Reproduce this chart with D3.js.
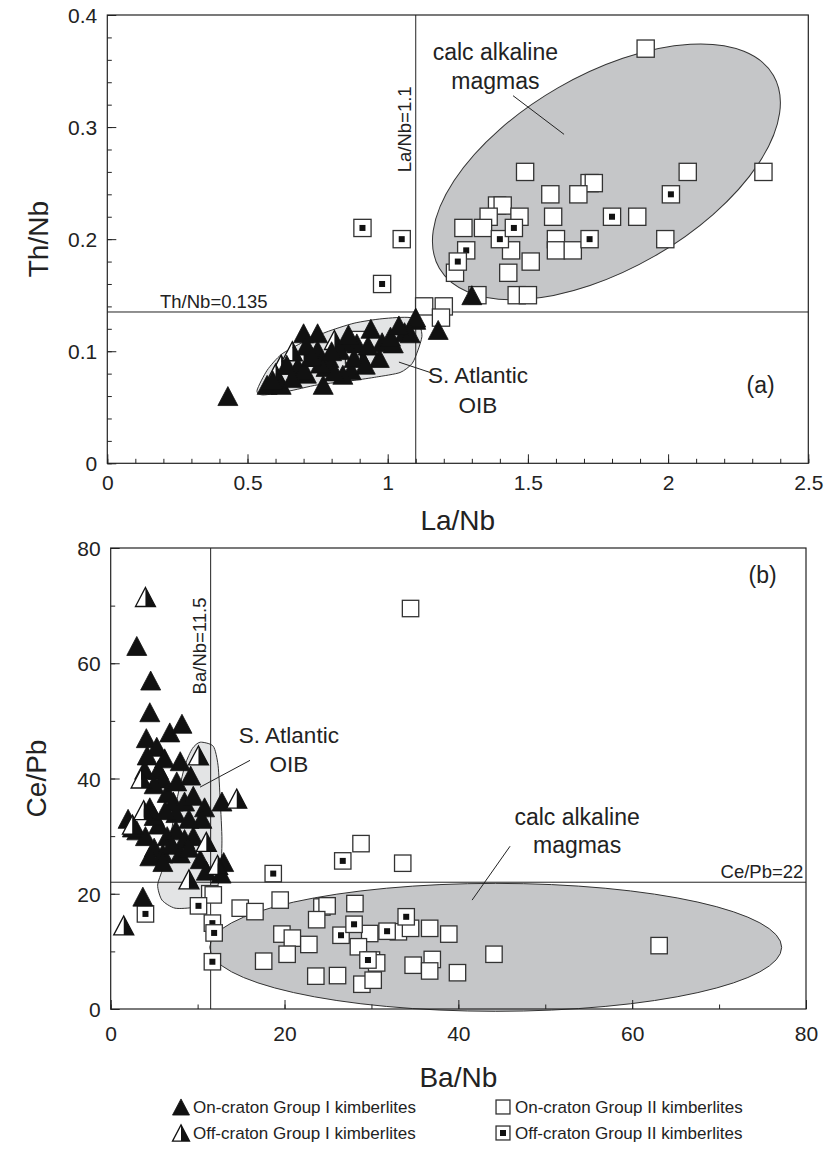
<!DOCTYPE html>
<html>
<head>
<meta charset="utf-8">
<script src="https://cdn.jsdelivr.net/npm/d3@7"></script>
<style>
  body { margin: 0; background: #fff; }
  svg text { font-family: 'Liberation Sans', Arial, Helvetica, sans-serif; fill: #222; }
</style>
</head>
<body>
<svg id="chart" width="824" height="1150"></svg>
<script>
// ---- panel (a) : Th/Nb vs La/Nb ----
const onCratonI_a = [
  [0.43, 0.06], [0.57, 0.07], [0.62, 0.07], [0.59, 0.074], [0.70, 0.116], [0.75, 0.116],
  [0.71, 0.105], [0.75, 0.101], [0.79, 0.094], [0.85, 0.108], [0.89, 0.107], [0.94, 0.12],
  [0.98, 0.108], [1.02, 0.107], [1.06, 0.117], [1.10, 0.128], [1.18, 0.119], [1.10, 0.13],
  [0.97, 0.094], [0.87, 0.083], [0.84, 0.079], [0.77, 0.07], [0.71, 0.08], [0.68, 0.086],
  [0.64, 0.088], [0.78, 0.086], [0.81, 0.082], [0.88, 0.094], [0.76, 0.089], [0.83, 0.101],
  [0.93, 0.105], [1.01, 0.113], [1.08, 0.116], [0.70, 0.083], [1.30, 0.15],
  [0.73, 0.095], [0.80, 0.10], [0.92, 0.088], [0.66, 0.076], [0.86, 0.115], [1.04, 0.123]
];
const offCratonI_a = [[0.62, 0.088], [0.60, 0.08], [0.81, 0.11], [0.70, 0.095], [0.90, 0.097], [0.66, 0.1]];
const onCratonII_a = [
  [1.92, 0.37], [1.49, 0.26], [2.07, 0.26], [2.34, 0.26], [1.72, 0.25], [1.735, 0.25],
  [1.58, 0.24], [1.68, 0.24], [1.39, 0.23], [1.41, 0.23], [1.36, 0.22], [1.47, 0.22],
  [1.59, 0.22], [1.89, 0.22], [1.27, 0.21], [1.34, 0.21], [1.60, 0.20], [1.99, 0.20],
  [1.44, 0.19], [1.60, 0.19], [1.66, 0.19], [1.51, 0.18], [1.24, 0.17], [1.43, 0.17],
  [1.32, 0.15], [1.46, 0.15], [1.50, 0.15], [1.13, 0.14], [1.20, 0.14], [1.19, 0.13],
  [0.88, 0.097], [0.90, 0.11]
];
const offCratonII_a = [
  [2.01, 0.24], [1.80, 0.22], [1.72, 0.20], [1.40, 0.20], [1.45, 0.21], [1.28, 0.19],
  [1.25, 0.18], [0.91, 0.21], [1.05, 0.20], [0.98, 0.16]
];

// ---- panel (b) : Ce/Pb vs Ba/Nb ----
const onCratonI_b = [
  [3.0, 63], [4.6, 57], [4.5, 51.5], [4.1, 47], [5.3, 45.5], [6.8, 48], [8.2, 49.5],
  [8.0, 43], [3.9, 41.5], [5.5, 41.5], [6.0, 40], [5.0, 39], [6.5, 37.5], [7.2, 36],
  [8.5, 36], [9.5, 37], [10.8, 35], [12.8, 36], [4.5, 35], [2.0, 33], [3.0, 31], [4.0, 30],
  [5.5, 32], [6.5, 30], [7.5, 31], [8.5, 29.5], [9.5, 30], [10.5, 33], [5.0, 28], [6.0, 27],
  [7.0, 28.5], [8.0, 27], [9.0, 28], [4.5, 26.5], [6.0, 25.5], [10.3, 26], [12.7, 23.5],
  [13.0, 25.5], [11.0, 24], [3.7, 19.5], [5.0, 33.5], [7.5, 34], [9.0, 33], [6.3, 34.5],
  [2.5, 31.5], [4.2, 44], [6.2, 43.5], [7.6, 39.5], [9.2, 40.5]
];
const offCratonI_b = [
  [4.0, 71.5], [10.1, 44], [3.5, 40], [3.8, 34.5], [1.5, 14.5], [14.5, 36.5],
  [12.3, 25], [9.0, 22.5], [2.5, 32], [11.0, 29]
];
const onCratonII_b = [
  [34.5, 69.5], [28.8, 28.7], [33.6, 25.3], [11.4, 20.0], [11.8, 19.8], [14.9, 17.5],
  [16.6, 16.9], [19.5, 18.9], [24.3, 17.7], [24.9, 17.9], [28.1, 18.3], [23.7, 15.5],
  [29.8, 13.1], [33.1, 13.4], [34.5, 14.0], [36.7, 14.0], [38.9, 13.0], [19.7, 13.0],
  [20.9, 12.3], [22.8, 11.2], [28.5, 10.8], [17.6, 8.3], [20.3, 9.5], [30.0, 8.5],
  [30.6, 8.0], [34.8, 7.6], [37.0, 8.6], [36.7, 6.6], [39.9, 6.3], [44.1, 9.5],
  [63.1, 11.0], [23.6, 5.7], [26.1, 5.8], [28.9, 4.3], [30.2, 5.0]
];
const offCratonII_b = [
  [18.7, 23.5], [26.7, 25.7], [10.1, 17.9], [11.7, 14.9], [11.9, 13.2], [11.7, 8.2],
  [26.5, 12.8], [28.0, 14.7], [31.8, 13.5], [34.0, 16.0], [29.6, 8.5], [4.0, 16.5]
];

// field outlines (data units)
const oibFieldA = [
  [0.57, 0.083], [0.62, 0.097], [0.69, 0.107], [0.78, 0.117], [0.88, 0.125], [0.98, 0.129],
  [1.08, 0.13], [1.115, 0.122], [1.122, 0.113], [1.108, 0.101], [1.087, 0.089], [1.044, 0.081],
  [0.96, 0.077], [0.88, 0.074], [0.75, 0.07], [0.64, 0.064], [0.555, 0.061], [0.534, 0.065]
];
const oibFieldB = [
  [10.3, 46.3], [11.8, 45.6], [12.35, 42.3], [12.6, 36.2], [12.8, 29.3], [12.6, 23.2],
  [11.7, 19.2], [9.7, 17.7], [7.4, 17.5], [5.9, 18.9], [5.4, 21.5], [6.0, 24.4],
  [6.8, 29.3], [7.6, 36.2], [8.55, 42.3], [9.4, 45.2]
];
// semi-axes of the tilted field are given in La/Nb units
const calcFieldA = { cx: 1.78, cy: 0.26, a: 0.688, b: 0.346, tilt: 30 };
const calcFieldB = { cx: 44.3, cy: 10.7, rx: 32.9, ry: 11.1 };

const xTicksA = [0, 0.5, 1, 1.5, 2, 2.5];
const yTicksA = [0, 0.1, 0.2, 0.3, 0.4];
const xTicksB = [0, 20, 40, 60, 80];
const yTicksB = [0, 20, 40, 60, 80];

const legendData = [
  { label: 'On-craton Group I kimberlites', kind: 'tri' },
  { label: 'On-craton Group II kimberlites', kind: 'sq' },
  { label: 'Off-craton Group I kimberlites', kind: 'half' },
  { label: 'Off-craton Group II kimberlites', kind: 'dot' }
];

const svg = d3.select('#chart');
const ink = '#222';

function triPath(w, h) {
  return 'M0,' + (-h / 2) + 'L' + (w / 2) + ',' + (h / 2) + 'L' + (-w / 2) + ',' + (h / 2) + 'Z';
}

function drawMarker(g, kind, size) {
  if (kind === 'tri') {
    g.append('path').attr('d', triPath(size, size * 0.95)).attr('fill', '#111').attr('stroke', '#111').attr('stroke-width', 0.8);
  } else if (kind === 'half') {
    const h = size * 0.95;
    g.append('path').attr('d', 'M0,' + (-h / 2) + 'L0,' + (h / 2) + 'L' + (-size / 2) + ',' + (h / 2) + 'Z').attr('fill', '#fff');
    g.append('path').attr('d', 'M0,' + (-h / 2) + 'L' + (size / 2) + ',' + (h / 2) + 'L0,' + (h / 2) + 'Z').attr('fill', '#111');
    g.append('path').attr('d', triPath(size, h)).attr('fill', 'none').attr('stroke', '#111').attr('stroke-width', 1.3);
  } else {
    const s = size * 0.82;
    g.append('rect').attr('x', -s / 2).attr('y', -s / 2).attr('width', s).attr('height', s)
      .attr('fill', '#fff').attr('stroke', '#333').attr('stroke-width', 1.3);
    if (kind === 'dot') {
      g.append('rect').attr('x', -3).attr('y', -3).attr('width', 6).attr('height', 6).attr('fill', '#111');
    }
  }
}

function drawPoints(g, data, kind, x, y, size) {
  g.selectAll(null)
    .data(data)
    .enter()
    .append('g')
    .attr('transform', function (d) { return 'translate(' + x(d[0]) + ',' + y(d[1]) + ')'; })
    .each(function () { drawMarker(d3.select(this), kind, size); });
}

function drawAxes(g, x, y, opt) {
  const w = x.range()[1] - x.range()[0];
  const h = y.range()[0] - y.range()[1];
  const bottom = y.range()[0];
  const left = x.range()[0];

  // minor ticks
  g.append('g').attr('transform', 'translate(0,' + bottom + ')')
    .call(d3.axisBottom(x).tickValues(d3.range(x.domain()[0], x.domain()[1] + 1e-9, opt.xMinor)).tickSize(-4.5).tickFormat(''))
    .call(s => s.select('.domain').remove())
    .call(s => s.selectAll('line').attr('stroke', ink));
  g.append('g').attr('transform', 'translate(' + left + ',0)')
    .call(d3.axisLeft(y).tickValues(d3.range(y.domain()[0], y.domain()[1] + 1e-9, opt.yMinor)).tickSize(-4.5).tickFormat(''))
    .call(s => s.select('.domain').remove())
    .call(s => s.selectAll('line').attr('stroke', ink));

  // major ticks + labels
  g.append('g').attr('transform', 'translate(0,' + bottom + ')')
    .call(d3.axisBottom(x).tickValues(opt.xTicks).tickSize(-9).tickPadding(opt.xPad).tickFormat(opt.xFmt))
    .call(s => s.select('.domain').remove())
    .call(s => s.selectAll('line').attr('stroke', ink))
    .call(s => s.selectAll('text').attr('font-size', 21).style('fill', ink));
  g.append('g').attr('transform', 'translate(' + left + ',0)')
    .call(d3.axisLeft(y).tickValues(opt.yTicks).tickSize(-9).tickPadding(10).tickFormat(opt.yFmt))
    .call(s => s.select('.domain').remove())
    .call(s => s.selectAll('line').attr('stroke', ink))
    .call(s => s.selectAll('text').attr('font-size', 21).attr('dy', '0.36em').style('fill', ink));

  g.append('rect').attr('x', left).attr('y', y.range()[1]).attr('width', w).attr('height', h)
    .attr('fill', 'none').attr('stroke', ink).attr('stroke-width', 1.2);

  g.append('text').attr('x', left + w / 2).attr('y', opt.xTitleY).attr('text-anchor', 'middle')
    .attr('font-size', 28).text(opt.xTitle);
  g.append('text').attr('transform', 'translate(' + opt.yTitleX + ',' + (y.range()[1] + h / 2) + ') rotate(-90)')
    .attr('text-anchor', 'middle').attr('font-size', 28).text(opt.yTitle);
}

function leader(g, p, q, x, y) {
  g.append('line').attr('x1', x(p[0])).attr('y1', y(p[1])).attr('x2', x(q[0])).attr('y2', y(q[1]))
    .attr('stroke', ink).attr('stroke-width', 1);
}

// ================= panel (a) =================
const xA = d3.scaleLinear().domain([0, 2.5]).range([107.3, 808.3]);
const yA = d3.scaleLinear().domain([0, 0.4]).range([463.3, 15]);
const gA = svg.append('g');

// calc alkaline field
const ppuA = xA(1) - xA(0);
gA.append('ellipse')
  .attr('cx', xA(calcFieldA.cx)).attr('cy', yA(calcFieldA.cy))
  .attr('rx', calcFieldA.a * ppuA).attr('ry', calcFieldA.b * ppuA)
  .attr('transform', 'rotate(' + (-calcFieldA.tilt) + ',' + xA(calcFieldA.cx) + ',' + yA(calcFieldA.cy) + ')')
  .attr('fill', '#c5c6c8').attr('stroke', '#333').attr('stroke-width', 1);

// S. Atlantic OIB field
gA.append('path')
  .datum(oibFieldA)
  .attr('d', d3.line().x(d => xA(d[0])).y(d => yA(d[1])).curve(d3.curveCardinalClosed.tension(0.3)))
  .attr('fill', '#e3e4e5').attr('stroke', '#333').attr('stroke-width', 1);

// reference lines
gA.append('line').attr('x1', xA(1.1)).attr('x2', xA(1.1)).attr('y1', yA(0)).attr('y2', yA(0.4)).attr('stroke', ink).attr('stroke-width', 1);
gA.append('line').attr('x1', xA(0)).attr('x2', xA(2.5)).attr('y1', yA(0.135)).attr('y2', yA(0.135)).attr('stroke', ink).attr('stroke-width', 1);

drawAxes(gA, xA, yA, {
  xTicks: xTicksA, yTicks: yTicksA, xMinor: 0.1, yMinor: 0.02,
  xFmt: d3.format(''), yFmt: d3.format(''), xPad: 12,
  xTitle: 'La/Nb', yTitle: 'Th/Nb', xTitleY: 530, yTitleX: 48
});

leader(gA, [1.447, 0.328], [1.629, 0.2935], xA, yA);
leader(gA, [1.04, 0.0903], [1.158, 0.0805], xA, yA);

gA.append('text').attr('x', xA(1.384)).attr('y', 60).attr('text-anchor', 'middle').attr('font-size', 23).text('calc alkaline');
gA.append('text').attr('x', xA(1.384)).attr('y', 89).attr('text-anchor', 'middle').attr('font-size', 23).text('magmas');
gA.append('text').attr('x', xA(1.322)).attr('y', 383).attr('text-anchor', 'middle').attr('font-size', 22.5).text('S. Atlantic');
gA.append('text').attr('x', xA(1.322)).attr('y', 413).attr('text-anchor', 'middle').attr('font-size', 22.5).text('OIB');
gA.append('text').attr('x', xA(0.188)).attr('y', yA(0.135) - 4).attr('font-size', 18.5).text('Th/Nb=0.135');
gA.append('text').attr('transform', 'translate(' + (xA(1.1) - 5) + ',' + yA(0.298) + ') rotate(-90)')
  .attr('text-anchor', 'middle').attr('font-size', 18.5).text('La/Nb=1.1');
gA.append('text').attr('x', xA(2.33)).attr('y', 393).attr('text-anchor', 'middle').attr('font-size', 23).text('(a)');

drawPoints(gA, onCratonII_a, 'sq', xA, yA, 21);
drawPoints(gA, offCratonII_a, 'dot', xA, yA, 21);
drawPoints(gA, offCratonI_a, 'half', xA, yA, 20);
drawPoints(gA, onCratonI_a, 'tri', xA, yA, 20);

// ================= panel (b) =================
const xB = d3.scaleLinear().domain([0, 80]).range([110.7, 806]);
const yB = d3.scaleLinear().domain([0, 80]).range([1009, 548]);
const gB = svg.append('g');

gB.append('ellipse')
  .attr('cx', xB(calcFieldB.cx)).attr('cy', yB(calcFieldB.cy))
  .attr('rx', xB(calcFieldB.rx) - xB(0)).attr('ry', yB(0) - yB(calcFieldB.ry))
  .attr('fill', '#c5c6c8').attr('stroke', '#333').attr('stroke-width', 1);

gB.append('path')
  .datum(oibFieldB)
  .attr('d', d3.line().x(d => xB(d[0])).y(d => yB(d[1])).curve(d3.curveCardinalClosed.tension(0.3)))
  .attr('fill', '#e3e4e5').attr('stroke', '#333').attr('stroke-width', 1);

gB.append('line').attr('x1', xB(11.5)).attr('x2', xB(11.5)).attr('y1', yB(0)).attr('y2', yB(80)).attr('stroke', ink).attr('stroke-width', 1);
gB.append('line').attr('x1', xB(0)).attr('x2', xB(80)).attr('y1', yB(22)).attr('y2', yB(22)).attr('stroke', ink).attr('stroke-width', 1);

drawAxes(gB, xB, yB, {
  xTicks: xTicksB, yTicks: yTicksB, xMinor: 10, yMinor: 10,
  xFmt: d3.format('d'), yFmt: d3.format('d'), xPad: 17,
  xTitle: 'Ba/Nb', yTitle: 'Ce/Pb', xTitleY: 1087, yTitleX: 46
});

leader(gB, [45.95, 28.25], [41.58, 18.9], xB, yB);
leader(gB, [16.03, 43.15], [10.28, 38.5], xB, yB);

gB.append('text').attr('x', xB(53.66)).attr('y', 825).attr('text-anchor', 'middle').attr('font-size', 23).text('calc alkaline');
gB.append('text').attr('x', xB(53.66)).attr('y', 853).attr('text-anchor', 'middle').attr('font-size', 23).text('magmas');
gB.append('text').attr('x', xB(20.5)).attr('y', 743).attr('text-anchor', 'middle').attr('font-size', 22.5).text('S. Atlantic');
gB.append('text').attr('x', xB(20.5)).attr('y', 772).attr('text-anchor', 'middle').attr('font-size', 22.5).text('OIB');
gB.append('text').attr('x', xB(79.7)).attr('y', yB(22) - 4).attr('text-anchor', 'end').attr('font-size', 18.5).text('Ce/Pb=22');
gB.append('text').attr('transform', 'translate(' + (xB(11.5) - 5) + ',' + yB(63) + ') rotate(-90)')
  .attr('text-anchor', 'middle').attr('font-size', 18.5).text('Ba/Nb=11.5');
gB.append('text').attr('x', xB(75)).attr('y', 583).attr('text-anchor', 'middle').attr('font-size', 23).text('(b)');

drawPoints(gB, onCratonII_b, 'sq', xB, yB, 20);
drawPoints(gB, offCratonII_b, 'dot', xB, yB, 20);
drawPoints(gB, onCratonI_b, 'tri', xB, yB, 20);
drawPoints(gB, offCratonI_b, 'half', xB, yB, 20);

// ================= legend =================
const legend = svg.append('g').attr('class', 'legend');
const legendItems = legend.selectAll('.legend-item')
  .data(legendData)
  .enter()
  .append('g')
  .attr('class', 'legend-item')
  .attr('transform', function (d, i) {
    return 'translate(' + (i % 2 === 0 ? 181 : 503) + ',' + (1107 + Math.floor(i / 2) * 26) + ')';
  });

legendItems.each(function (d) { drawMarker(d3.select(this), d.kind, 17); });

legendItems.append('text')
  .attr('x', 12)
  .attr('y', 6)
  .attr('font-size', 17)
  .text(function (d) { return d.label; });
</script>
</body>
</html>
